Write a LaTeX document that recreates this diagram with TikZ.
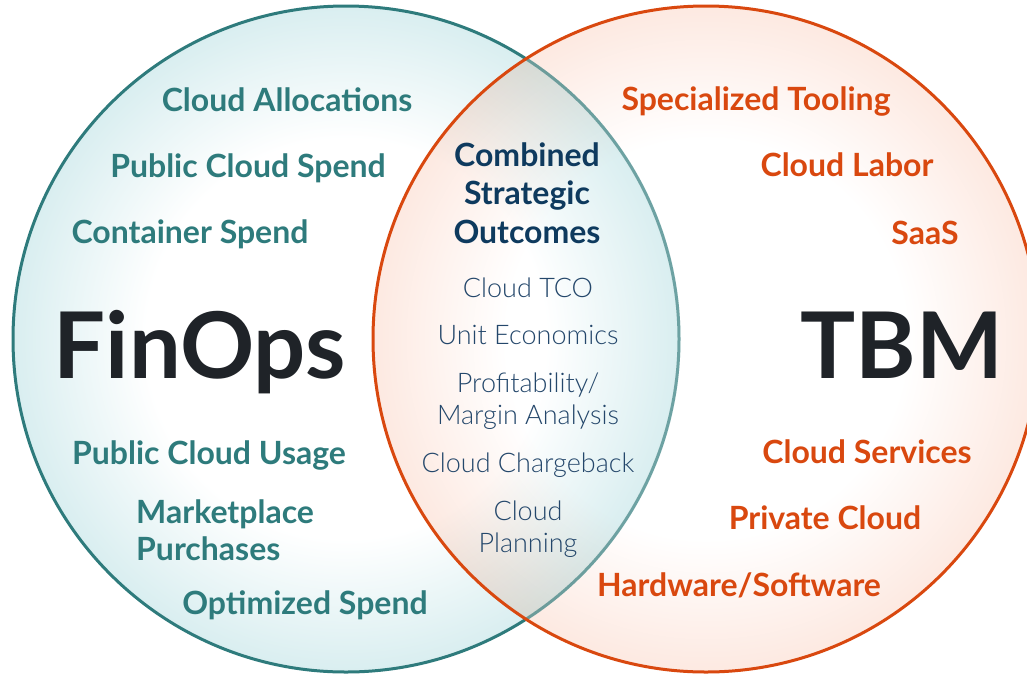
\documentclass[tikz,border=0pt]{standalone}
\usepackage{fontspec}
\setmainfont{Lato}
\IfFontExistsTF{Lato Light}{\newfontfamily\latolight{Lato Light}}{\newfontfamily\latolight{Lato}}
\usetikzlibrary{positioning}

\definecolor{finopsteal}{HTML}{2E7B7C}
\definecolor{tbmorange}{HTML}{D9480F}
\definecolor{lensnavy}{HTML}{0E3A5E}
\definecolor{itemnavy}{HTML}{24476B}
\definecolor{titleblack}{HTML}{1F2328}
\definecolor{tealfill}{HTML}{D9EEF0}
\definecolor{peachfill}{HTML}{FDE9E1}

\pgfdeclareradialshading{finopsshade}{\pgfpoint{0bp}{0bp}}{color(0bp)=(white); color(15bp)=(white); color(25bp)=(tealfill); color(50bp)=(tealfill)}
\pgfdeclareradialshading{tbmshade}{\pgfpoint{0bp}{0bp}}{color(0bp)=(white); color(15bp)=(white); color(25bp)=(peachfill); color(50bp)=(peachfill)}

\begin{document}
\begin{tikzpicture}[x=1pt, y=-1pt,
    finops/.style={text=finopsteal, font=\bfseries\fontsize{32}{37}\selectfont, inner sep=0pt, anchor=base},
    tbm/.style={text=tbmorange, font=\bfseries\fontsize{32}{37}\selectfont, inner sep=0pt, anchor=base},
    lenshead/.style={text=lensnavy, font=\bfseries\fontsize{32}{38.5}\selectfont, inner sep=0pt, anchor=base, align=center},
    lensitem/.style={text=itemnavy, font=\latolight\fontsize{27}{32}\selectfont, inner sep=0pt, anchor=base, align=center},
    bigtitle/.style={text=titleblack, font=\bfseries\fontsize{92}{92}\selectfont, inner sep=0pt, anchor=base}]
    \clip (0,0) rectangle (1027,675);

    % Circles with soft fill
    \shade[shading=finopsshade] (346,339) circle [radius=333];
    \draw[finopsteal, line width=3pt] (346,339) circle [radius=333];
    \begin{scope}[blend mode=multiply]
        \shade[shading=tbmshade] (706,339) circle [radius=333];
    \end{scope}
    % teal edge fades where it runs under the TBM circle
    \begin{scope}
        \clip (706,339) circle [radius=333];
        \draw[white, opacity=0.3, line width=3.5pt] (346,339) circle [radius=333];
    \end{scope}
    \draw[tbmorange, line width=3pt] (706,339) circle [radius=333];

    % FinOps side
    \node (finops) at (200,378) [bigtitle] {FinOps};
    \node (alloc) at (287,111) [finops] {Cloud Allocations};
    \node (pubspend) at (248,177) [finops] {Public Cloud Spend};
    \node (container) at (190,243) [finops] {Container Spend};
    \node (pubusage) at (209,464) [finops] {Public Cloud Usage};
    \node (market) at (136,560) [finops, anchor=base west, align=left] {Marketplace\\Purchases};
    \node (optimized) at (305,614) [finops] {Optimized Spend};

    % TBM side
    \node (tbm) at (902,378) [bigtitle] {TBM};
    \node (tooling) at (756,110) [tbm] {Specialized Tooling};
    \node (labor) at (847,176) [tbm] {Cloud Labor};
    \node (saas) at (925,244) [tbm] {SaaS};
    \node (services) at (867,463) [tbm] {Cloud Services};
    \node (private) at (825,529) [tbm] {Private Cloud};
    \node (hardware) at (739,596) [tbm] {Hardware/Software};

    % Overlap
    \node (outcomes) at (527,243) [lenshead] {Combined\\Strategic\\Outcomes};
    \node (tco) at (528,297) [lensitem] {Cloud TCO};
    \node (unit) at (528,344) [lensitem] {Unit Economics};
    \node (margin) at (528,424) [lensitem] {Profitability/\\Margin Analysis};
    \node (chargeback) at (528,472) [lensitem] {Cloud Chargeback};
    \node (planning) at (528,552) [lensitem] {Cloud\\Planning};
\end{tikzpicture}
\end{document}
